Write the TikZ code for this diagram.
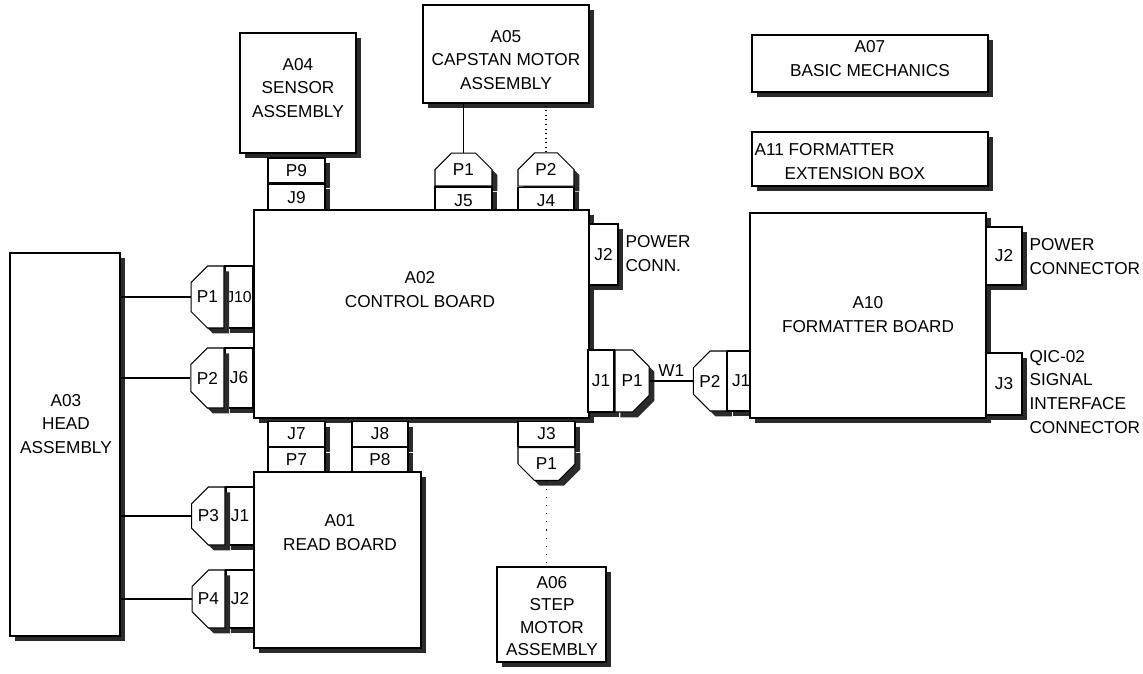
\documentclass[tikz,border=0pt]{standalone}
\usepackage{fontspec}
\setmainfont{Liberation Sans}
\usetikzlibrary{fit,positioning,shadows,shapes.misc}
\definecolor{shadowgrey}{HTML}{2B2B2B}

\begin{document}
\begin{tikzpicture}[x=.02cm,y=-.02cm,line width=.6pt,
  sh/.style={drop shadow={shadow xshift=3pt,shadow yshift=-3pt,
             fill=shadowgrey,opacity=1}},
  blk/.style={draw,fill=white,inner sep=0pt,sh},
  lab/.style={font=\fontsize{9.8}{13.6}\selectfont,align=center,inner sep=0pt},
  con/.style={draw,fill=white,inner sep=0pt,sh,lab},
  hc/.style={con,minimum width=1.14cm,minimum height=.54cm},
  vc/.style={con,minimum width=.56cm,minimum height=1.2cm},
  chw/.style={chamfered rectangle,chamfered rectangle corners={north west,south west},
              chamfered rectangle xsep=6pt,chamfered rectangle ysep=7pt},
  che/.style={chamfered rectangle,chamfered rectangle corners={north east,south east},
              chamfered rectangle xsep=6pt,chamfered rectangle ysep=7pt},
  chn/.style={chamfered rectangle,chamfered rectangle corners={north west,north east},
              chamfered rectangle xsep=6pt,chamfered rectangle ysep=6pt},
  chs/.style={chamfered rectangle,chamfered rectangle corners={south west,south east},
              chamfered rectangle xsep=6pt,chamfered rectangle ysep=6pt},
  node distance=0pt]
  \useasboundingbox (0,0) rectangle (1143,673);

  \node[blk,fit={(240,33)(356,153)}] (a04) {};
  \node[blk,fit={(423,5)(589,103)}] (a05) {};
  \node[blk,fit={(752,35)(988,92)}] (a07) {};
  \node[blk,fit={(752,132)(988,186)}] (a11) {};
  \node[blk,fit={(10,253)(120,636)}] (a03) {};
  \node[blk,fit={(497,567)(606,662)}] (a06) {};

  \node[hc,minimum height=.5cm] (p9) at (296.5,170.5) {P9};
  \node[hc,below=of p9] (j9) {J9};
  \node[hc,chn] (p5) at (463.5,169.5) {P1};
  \node[hc,below=of p5] (j5) {J5};
  \node[hc,chn,minimum width=1.12cm] (p4) at (546,169.5) {P2};
  \node[hc,below=of p4,minimum width=1.12cm] (j4) {J4};

  \node[vc,minimum height=1.24cm,font=\fontsize{9}{11}\selectfont] (j10) at (239,297) {J10};
  \node[vc,chw,minimum height=1.24cm,left=of j10,minimum width=.54cm] (p1l) {P1};
  \node[vc] (j6) at (239,378) {J6};
  \node[vc,chw,left=of j6,minimum width=.54cm] (p2l) {P2};
  \node[vc,minimum height=1.16cm] (j1a) at (240,516) {J1};
  \node[vc,chw,minimum height=1.16cm,left=of j1a,minimum width=.54cm] (p3) {P3};
  \node[vc,minimum height=1.16cm] (j2a) at (240,599) {J2};
  \node[vc,chw,minimum height=1.16cm,left=of j2a,minimum width=.54cm] (p4l) {P4};

  \node[blk,fit={(254,210)(589,418)}] (a02) {};

  \node[hc,minimum height=.5cm] (j7) at (296.5,434) {J7};
  \node[hc,minimum height=.5cm,below=of j7] (p7) {P7};
  \node[hc,minimum height=.5cm,minimum width=1.12cm] (j8) at (380,434) {J8};
  \node[hc,minimum height=.5cm,minimum width=1.12cm,below=of j8] (p8) {P8};
  \node[hc,minimum height=.5cm] (j3) at (546.5,434) {J3};
  \node[hc,chs,minimum height=.6cm,below=of j3] (p1s) {P1};

  \node[blk,fit={(254,472)(421,648)}] (a01) {};

  \node[vc,minimum width=.58cm,minimum height=1.22cm] (j2c) at (603.5,254.5) {J2};
  \node[vc,minimum width=.52cm,minimum height=1.24cm] (j1c) at (601,381) {J1};
  \node[vc,che,minimum width=.68cm,minimum height=1.24cm,right=of j1c] (p1c) {P1};

  \node[vc,chw,minimum width=.52cm] (p2r) at (710,381) {P2};
  \node[vc,minimum width=.54cm,right=of p2r] (j1r) {J1};
  \node[blk,fit={(750,213)(986,418)}] (a10) {};
  \node[vc,minimum width=.72cm,minimum height=1.16cm] (j2d) at (1004,256) {J2};
  \node[vc,minimum width=.72cm,minimum height=1.24cm] (j3d) at (1004,384) {J3};

  \node[lab] (a04t) at (298,88) {A04\\SENSOR\\ASSEMBLY};
  \node[lab] (a05t) at (506,60) {A05\\CAPSTAN MOTOR\\ASSEMBLY};
  \node[lab] (a07t) at (870,59) {A07\\BASIC MECHANICS};
  \node[lab,align=left,anchor=west] (a11t) at (754,162)
    {A11 FORMATTER\\\hspace*{.6cm}EXTENSION BOX};
  \node[lab] (a02t) at (420,290) {A02\\CONTROL BOARD};
  \node[lab] (a10t) at (868,315) {A10\\FORMATTER BOARD};
  \node[lab] (a03t) at (66,424) {A03\\HEAD\\ASSEMBLY};
  \node[lab] (a01t) at (340,533) {A01\\READ BOARD};
  \node[lab,font=\fontsize{9.8}{12.6}\selectfont] (a06t) at (552,616) {A06\\STEP\\MOTOR\\ASSEMBLY};

  \node[lab,align=left,anchor=west] (pwr1) at (625,254) {POWER\\CONN.};
  \node[lab,align=left,anchor=west] (pwr2) at (1029,257) {POWER\\CONNECTOR};
  \node[lab,align=left,anchor=west] (qic) at (1029,392)
    {QIC-02\\SIGNAL\\INTERFACE\\CONNECTOR};

  \draw (p1l.west) -- (p1l.west -| a03.east);
  \draw (p2l.west) -- (p2l.west -| a03.east);
  \draw (p3.west) -- (p3.west -| a03.east);
  \draw (p4l.west) -- (p4l.west -| a03.east);
  \draw (p5.north) -- (p5.north |- a05.south);
  \draw[dotted] (p4.north) -- (p4.north |- a05.south);
  \draw[loosely dotted] (p1s.south) -- (p1s.south |- a06.north);
  \draw (p1c.east) -- node[lab,above=2pt] (w1) {W1} (p2r.west);
\end{tikzpicture}
\end{document}
